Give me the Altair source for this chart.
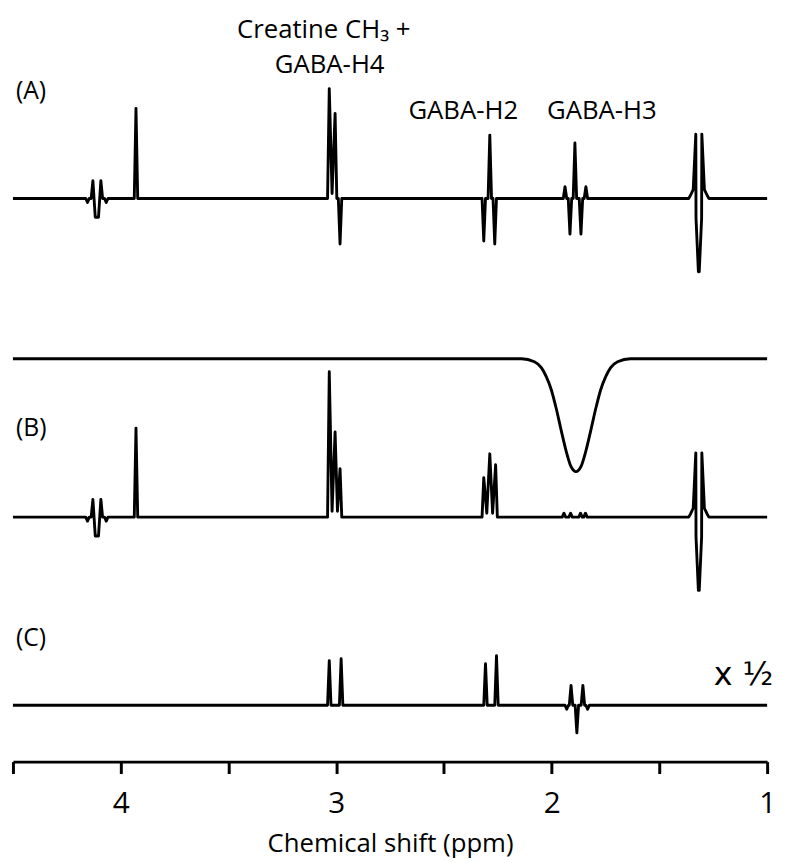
import altair as alt
import pandas as pd

# ---------------- data ----------------
# spectrum (A): peak apex positions (ppm) and heights (px-units above baseline)
A_ppm = [4.154, 4.129, 4.118, 4.103, 4.092, 4.067, 3.929, 3.032, 3.019, 3.005, 2.982,
         2.315, 2.287, 2.264, 1.938, 1.915, 1.892, 1.864, 1.841,
         1.356, 1.343, 1.331, 1.330, 1.319, 1.315, 1.304, 1.303, 1.291, 1.278]
A_h = [-4, 18, -19, -19, 18, -4, 91, 111, 5, 86, -46,
       -43, 64, -46, 12, -36, 56, -36, 12,
       3, 9, 65, -20, -74, -74, -20, 65, 9, 3]

# spectrum (B)
B_ppm = [4.154, 4.129, 4.118, 4.103, 4.092, 4.067, 3.929, 3.032, 3.019, 3.005, 2.994, 2.982,
         2.315, 2.301, 2.287, 2.274, 2.260, 1.943, 1.912, 1.866, 1.843,
         1.356, 1.343, 1.331, 1.330, 1.319, 1.315, 1.304, 1.303, 1.291, 1.278]
B_h = [-4, 18, -19, -19, 18, -4, 90, 147, 6, 86, 6, 49,
       40, 4, 64, 4, 53, 4, 4, 4, 4,
       3, 9, 65, -20, -74, -74, -20, 65, 9, 3]

# selective pulse profile drawn above (B)
P_ppm = [4.5, 2.140, 2.080, 2.048, 2.025, 2.002, 1.979, 1.956, 1.933, 1.910, 1.887,
         1.864, 1.841, 1.818, 1.795, 1.772, 1.749, 1.726, 1.694, 1.634, 1.0]
P_h = [0, 0, -3, -9, -18, -31, -50, -72, -93, -109, -114,
       -109, -93, -72, -50, -31, -18, -9, -3, 0, 0]

# difference spectrum (C), shown x 1/2
C_ppm = [3.032, 2.977, 2.307, 2.256, 1.930, 1.910, 1.883, 1.855, 1.833]
C_h = [45, 47, 42, 50, -4, 20, -28, 20, -4]

# vertical offsets of the traces (px-units above the axis line)
OFFSETS = {"A": 569, "P": 407, "B": 247, "C": 57}

X_TICKS = [4.5, 4, 3.5, 3, 2.5, 2, 1.5, 1]

W, H = 762, 752
HALF = 0.008  # half base width of a spike (ppm)


def spike_trace(ppm, h, name):
    pts = [(4.5, 0.0)]
    prev = None
    for p, v in sorted(zip(ppm, h), key=lambda t: -t[0]):
        if prev is None or prev - p > 2 * HALF:
            if prev is not None:
                pts.append((prev - HALF, 0.0))
            pts.append((p + HALF, 0.0))
        pts.append((p, float(v)))
        prev = p
    pts.append((prev - HALF, 0.0))
    pts.append((1.0, 0.0))
    off = OFFSETS[name]
    return pd.DataFrame({"ppm": [q[0] for q in pts],
                         "y": [q[1] + off for q in pts],
                         "trace": name,
                         "i": list(range(len(pts)))})


spec = pd.concat([spike_trace(A_ppm, A_h, "A"),
                  spike_trace(B_ppm, B_h, "B"),
                  spike_trace(C_ppm, C_h, "C")], ignore_index=True)
prof = pd.DataFrame({"ppm": P_ppm, "y": [v + OFFSETS["P"] for v in P_h],
                     "trace": "P", "i": list(range(len(P_ppm)))})

xscale = alt.Scale(domain=[1, 4.5], reverse=True, nice=False, zero=False)
yscale = alt.Scale(domain=[0, H], nice=False, zero=False)

xaxis = alt.Axis(values=X_TICKS,
                 labelExpr="datum.value % 1 === 0 ? format(datum.value, 'd') : ''",
                 grid=False, domainColor="black", domainWidth=3,
                 tickColor="black", tickWidth=3, tickSize=12,
                 labelFont="Open Sans", labelFontSize=30, labelColor="black",
                 labelPadding=15, labelFlush=False,
                 title="Chemical shift (ppm)", titleFont="Open Sans",
                 titleFontSize=26, titleFontWeight="normal", titleColor="black",
                 titlePadding=13)

lines = alt.Chart(spec).mark_line(color="black", strokeWidth=2.9,
                                  strokeJoin="round", clip=False).encode(
    x=alt.X("ppm:Q", scale=xscale, axis=xaxis),
    y=alt.Y("y:Q", scale=yscale, axis=None),
    detail="trace:N",
    order="i:Q",
)

pulse = alt.Chart(prof).mark_line(color="black", strokeWidth=2.9,
                                  interpolate="monotone").encode(
    x=alt.X("ppm:Q", scale=xscale, axis=xaxis),
    y=alt.Y("y:Q", scale=yscale, axis=None),
    order="i:Q",
)


def label(text, x, y, size, align="left", font="Open Sans"):
    return alt.Chart(pd.DataFrame({"t": [text]})).mark_text(
        align=align, baseline="alphabetic", font=font, fontSize=size,
        color="black").encode(x=alt.value(x), y=alt.value(y), text="t:N")


texts = [
    label("Creatine CH\u2083 +", 314, 21, 26, "center"),
    label("GABA-H4", 320, 56, 26, "center"),
    label("GABA-H2", 455, 103, 26, "center"),
    label("GABA-H3", 595, 103, 26, "center"),
    label("(A)", 3, 83, 25),
    label("(B)", 3, 423, 25),
    label("(C)", 3, 635, 25),
    label("x \u00bd", 708, 675, 32, "left", "DejaVu Sans"),
]

chart = alt.layer(lines, pulse, *texts).properties(
    width=W, height=H,
    padding={"left": 5, "top": 5, "right": 12, "bottom": 98},
    autosize=alt.AutoSizeParams(type="none"),
    background="white",
).configure_view(stroke=None)

chart.save("out.html", embed_options={"renderer": "svg", "actions": False})
